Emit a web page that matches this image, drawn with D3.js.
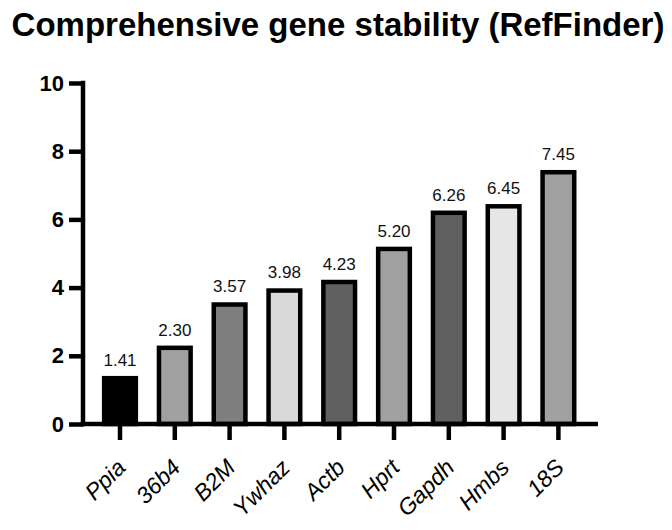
<!DOCTYPE html>
<html><head><meta charset="utf-8">
<script src="https://cdn.jsdelivr.net/npm/d3@7"></script>
<style>body{margin:0;background:#fff}svg{display:block}text{font-family:"Liberation Sans",Arial,sans-serif}</style>
</head><body><svg id="c" width="672" height="530"></svg>
<script>
const genes = ["Ppia","36b4","B2M","Ywhaz","Actb","Hprt","Gapdh","Hmbs","18S"];
const values = [1.41,2.30,3.57,3.98,4.23,5.20,6.26,6.45,7.45];
const labels = ["1.41","2.30","3.57","3.98","4.23","5.20","6.26","6.45","7.45"];
const fills = ["#000000","#a0a0a0","#7f7f7f","#d9d9d9","#606060","#a0a0a0","#5f5f5f","#e6e6e6","#a0a0a0"];
const yTicks = [0,2,4,6,8,10];
const title = "Comprehensive gene stability (RefFinder)";

const svg = d3.select("#c");
const x = d3.scaleBand().domain(genes).range([92.6, 585.8]).paddingInner(0.34).paddingOuter(0.17);
const y = d3.scaleLinear().domain([0,10]).range([424, 83]);
const axX0 = 83, axX1 = 598;

svg.append("text").attr("x", 338).attr("y", 36).attr("text-anchor","middle")
  .attr("font-size", 33).attr("font-weight","bold").text(title);

// bars
const sw = 4.5;
svg.selectAll("rect.bar").data(genes).join("rect").attr("class","bar")
  .attr("x", d => x(d) + sw/2)
  .attr("y", (d,i) => y(values[i]) + sw/2)
  .attr("width", x.bandwidth() - sw)
  .attr("height", (d,i) => y(0) - y(values[i]) - sw/2)
  .attr("fill", (d,i) => fills[i]).attr("stroke","#000").attr("stroke-width", sw);

svg.selectAll("text.val").data(genes).join("text").attr("class","val")
  .attr("x", d => x(d) + x.bandwidth()/2)
  .attr("y", (d,i) => y(values[i]) - 10)
  .attr("text-anchor","middle").attr("font-size", 17).attr("fill","#111")
  .text((d,i) => labels[i]);

// y axis
const yAxis = d3.axisLeft(y).tickValues(yTicks).tickSize(14).tickPadding(5).tickFormat(d3.format("d"));
const gy = svg.append("g").attr("transform", `translate(${axX0},0)`).call(yAxis);
gy.select(".domain").remove();
gy.selectAll(".tick line").attr("stroke","#000").attr("stroke-width", sw);
gy.selectAll(".tick text").attr("font-size", 22).attr("font-weight","bold").attr("fill","#000")
  .attr("font-family","Liberation Sans, Arial, sans-serif");
svg.append("line").attr("x1", axX0).attr("x2", axX0).attr("y1", y(10) - sw/2).attr("y2", y(0) + sw/2)
  .attr("stroke","#000").attr("stroke-width", sw);

// x axis
const xAxis = d3.axisBottom(x).tickSize(16).tickFormat("");
const gx = svg.append("g").attr("transform", `translate(0,${y(0)})`).call(xAxis);
gx.select(".domain").remove();
gx.selectAll(".tick line").attr("stroke","#000").attr("stroke-width", sw);
svg.append("line").attr("x1", axX0 - sw/2).attr("x2", axX1).attr("y1", y(0)).attr("y2", y(0))
  .attr("stroke","#000").attr("stroke-width", sw);

svg.selectAll("text.xl").data(genes).join("text").attr("class","xl")
  .attr("transform", d => `translate(${x(d) + x.bandwidth()/2 + 7},${469}) rotate(-45)`)
  .attr("text-anchor","end")
  .attr("font-size", 23).attr("font-style","italic").attr("fill","#000")
  .text(d => d);
</script></body></html>
